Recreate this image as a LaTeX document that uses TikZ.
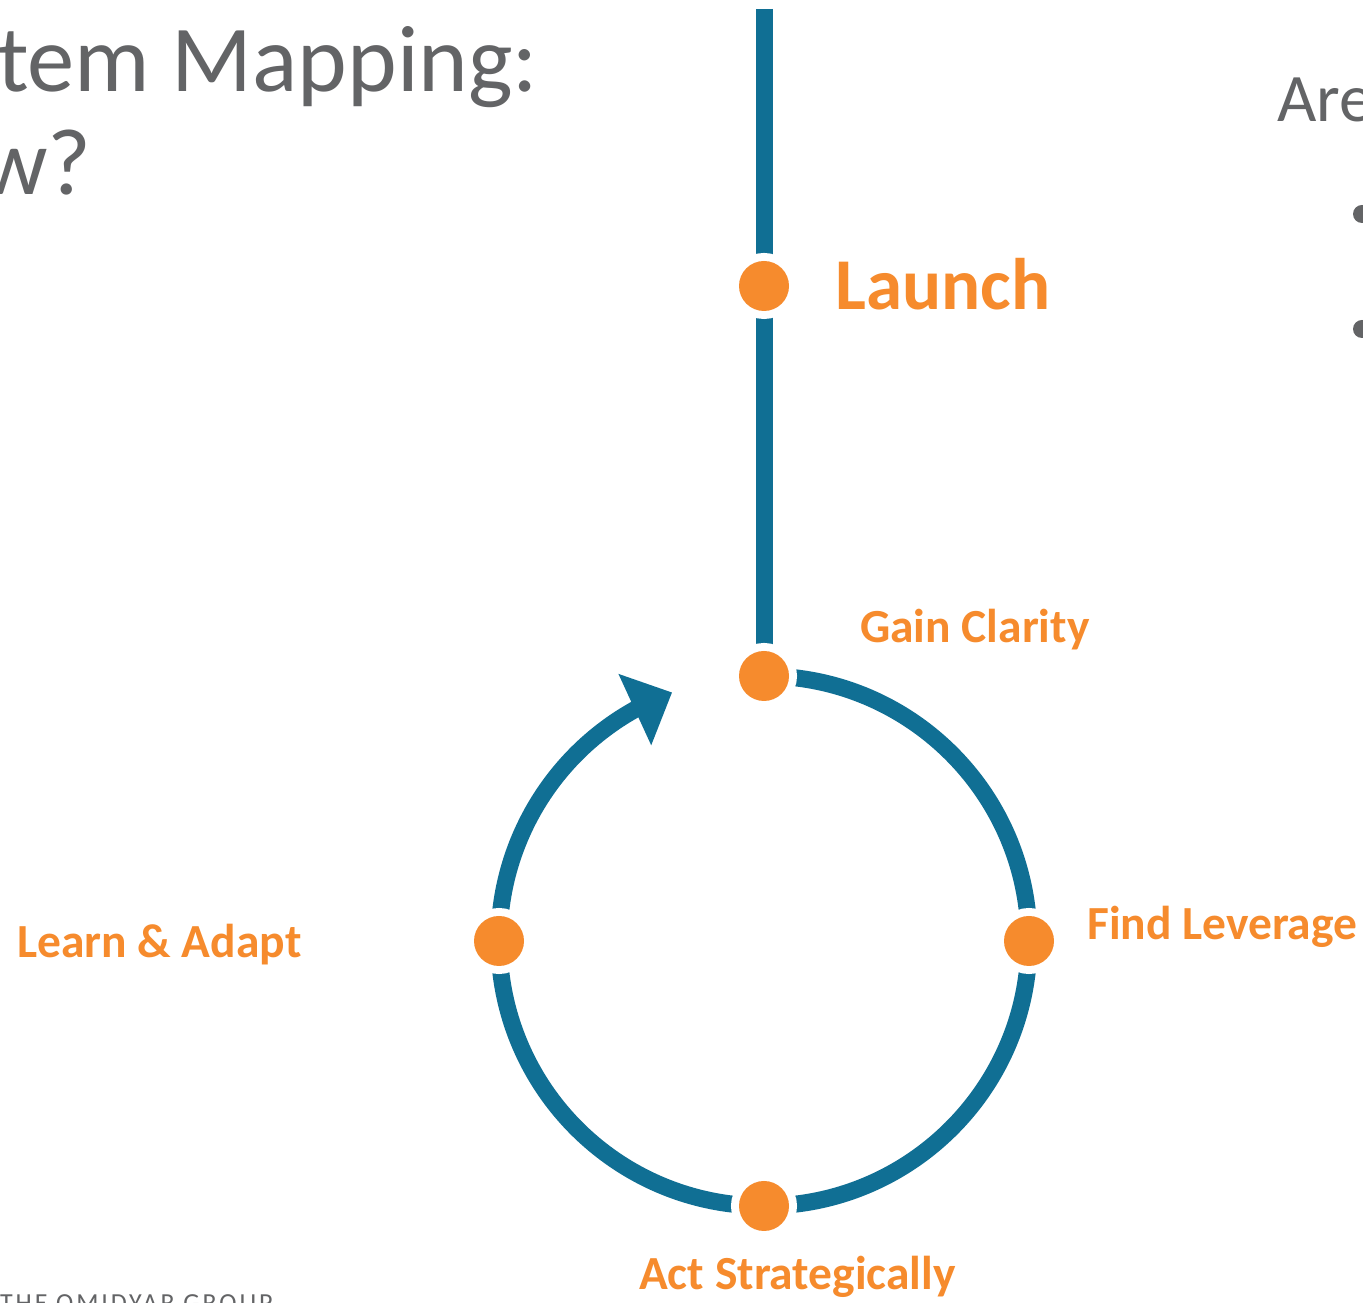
\documentclass[tikz,border=0pt]{standalone}
\usepackage{fontspec}
\setmainfont{Carlito}
\usetikzlibrary{arrows.meta,bending,backgrounds}
\definecolor{loopblue}{RGB}{16,111,148}
\definecolor{dotorange}{RGB}{246,139,45}
\definecolor{titlegray}{RGB}{99,100,102}
\begin{document}
\begin{tikzpicture}[x=1pt,y=1pt,
  dot/.style={circle,minimum size=50pt,inner sep=0pt,fill=dotorange,
    preaction={draw=white,line width=16pt}},
  loopline/.style={draw=loopblue,line width=17pt},
  stage/.style={text=dotorange,font=\bfseries\fontsize{47.5}{56}\selectfont,anchor=base west,inner sep=0pt},
  graytext/.style={text=titlegray,anchor=base west,inner sep=0pt}]
\useasboundingbox (0,0) rectangle (1363,1303);
% dots
\node[dot] (gain) at (764,627) {};
\node[dot] (find) at (1029,362) {};
\node[dot] (act) at (764,97) {};
\node[dot] (learn) at (499,362) {};
\node[dot] (launch) at (764,1017) {};
\coordinate (topend) at (764,1294);
% labels
\node[stage,font=\bfseries\fontsize{73}{88}\selectfont] (launchlbl) at (835,993) {Launch};
\node[stage] (gainlbl) at (860,660) {Gain Clarity};
\node[stage] (findlbl) at (1087,363) {Find Leverage};
\node[stage] (learnlbl) at (17,345) {Learn \& Adapt};
\node[stage] (actlbl) at (639,13) {Act Strategically};
% slide texts
\node[graytext,font=\fontsize{94.5}{110}\selectfont] (title1) at (-3,1211) {tem Mapping:};
\node[graytext,font=\fontsize{94.5}{110}\selectfont] (title2) at (-20,1108) {w?};
\node[graytext,font=\fontsize{68}{80}\selectfont] (are) at (1277,1181) {Are};
\fill[titlegray] (1362,1089) circle[radius=9pt];
\fill[titlegray] (1362,974) circle[radius=9pt];
\node[graytext,font=\fontsize{26}{30}\selectfont\addfontfeature{LetterSpace=11}] (omid) at (0,-9) {THE OMIDYAR GROUP};
% connectors
\begin{scope}[on background layer]
  \fill[white] (0,0) rectangle (1363,1303);
  \draw[loopline] (topend) -- (launch.center) -- (gain.center);
  \draw[loopline] (gain.center) arc[start angle=90,end angle=-180,radius=265pt];
  \draw[loopline,-{Triangle[length=41pt,width=76pt,flex]}] (learn.center) arc[start angle=180,end angle=110.3,radius=265pt];
\end{scope}
\end{tikzpicture}
\end{document}
